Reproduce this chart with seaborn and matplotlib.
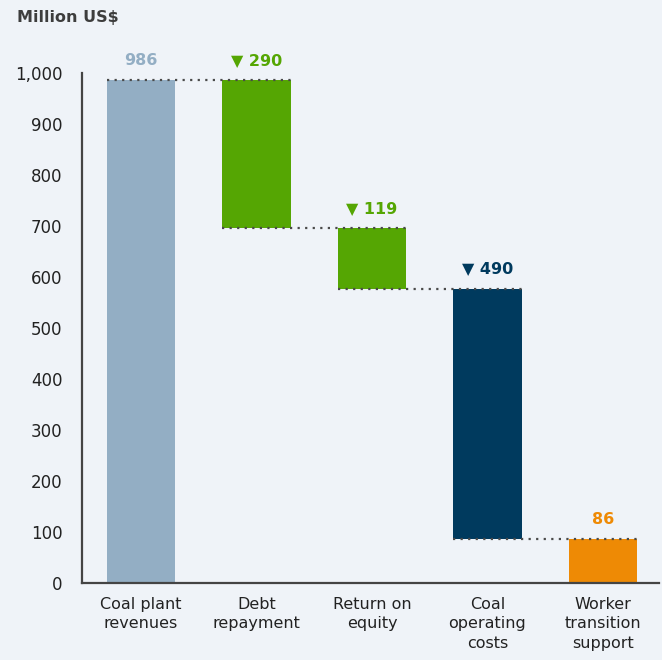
import matplotlib
matplotlib.use("Agg")
import matplotlib.pyplot as plt
import seaborn as sns
import numpy as np
import pandas as pd

# Waterfall components (million US$)
categories = ["Coal plant\nrevenues", "Debt\nrepayment", "Return on\nequity",
              "Coal\noperating\ncosts", "Worker\ntransition\nsupport"]
values = [986, 290, 119, 490, 86]
kinds = ["total", "decrease", "decrease", "decrease", "total"]
labels = ["986", "▼ 290", "▼ 119", "▼ 490", "86"]
colors = ["#93aec4", "#55a603", "#55a603", "#003a5e", "#ee8a05"]
y_ticks = [0, 100, 200, 300, 400, 500, 600, 700, 800, 900, 1000]

# Running totals -> bar bottoms and tops
bottoms, tops = [], []
level = 0
for v, k in zip(values, kinds):
    if k == "total":
        bottoms.append(0)
        tops.append(v)
        level = v
    else:
        tops.append(level)
        level = level - v
        bottoms.append(level)
heights = [t - b for t, b in zip(tops, bottoms)]

df = pd.DataFrame({"category": categories, "height": heights, "bottom": bottoms})

BG = "#eff3f8"
sns.set_theme(style="white")
plt.rcParams["font.family"] = ["DejaVu Sans"]

fig = plt.figure(figsize=(6.62, 6.60), dpi=100, facecolor=BG)
ax = fig.add_axes([82 / 662, 77 / 660, (659 - 82) / 662, (583 - 73) / 660])
ax.set_facecolor(BG)

bw = 0.59
sns.barplot(data=df, x="category", y="height", bottom=df["bottom"].values,
            width=bw, color=colors[0], ax=ax, zorder=2)
for patch, c in zip(ax.patches, colors):
    patch.set_facecolor(c)
    patch.set_edgecolor("none")

# Dotted connectors from one bar to the next
for i in range(len(values) - 1):
    lvl = bottoms[i] if kinds[i] != "total" else tops[i]
    ax.plot([i - bw / 2, i + 1 + bw / 2], [lvl, lvl], color="#4a4a4a",
            lw=1.6, linestyle=(0, (1, 2.4)), zorder=3)

# Value labels
for i, (lab, c) in enumerate(zip(labels, colors)):
    ax.annotate(lab, (i, tops[i]), xytext=(0, 9), textcoords="offset points",
                ha="center", va="bottom", color=c, fontsize=11.5,
                fontweight="bold")

ax.set_xlim(-0.51, 4.485)
ax.set_ylim(0, 1000)
ax.set_yticks(y_ticks)
ax.set_yticklabels([f"{t:,}" for t in y_ticks])
ax.set_xlabel("")
ax.set_ylabel("")
ax.tick_params(axis="both", length=0, labelcolor="#222222")
ax.tick_params(axis="y", pad=14, labelsize=12)
ax.tick_params(axis="x", pad=10, labelsize=11.5)
for lbl in ax.get_xticklabels():
    lbl.set_linespacing(1.38)

for s in ["top", "right"]:
    ax.spines[s].set_visible(False)
for s in ["left", "bottom"]:
    ax.spines[s].set_color("#444444")
    ax.spines[s].set_linewidth(1.6)

fig.text(17 / 662, 1 - 10 / 660, "Million US$", ha="left", va="top",
         fontsize=11.5, fontweight="bold", color="#3d3d3d")

fig.savefig("out.png", dpi=100, facecolor=BG)
